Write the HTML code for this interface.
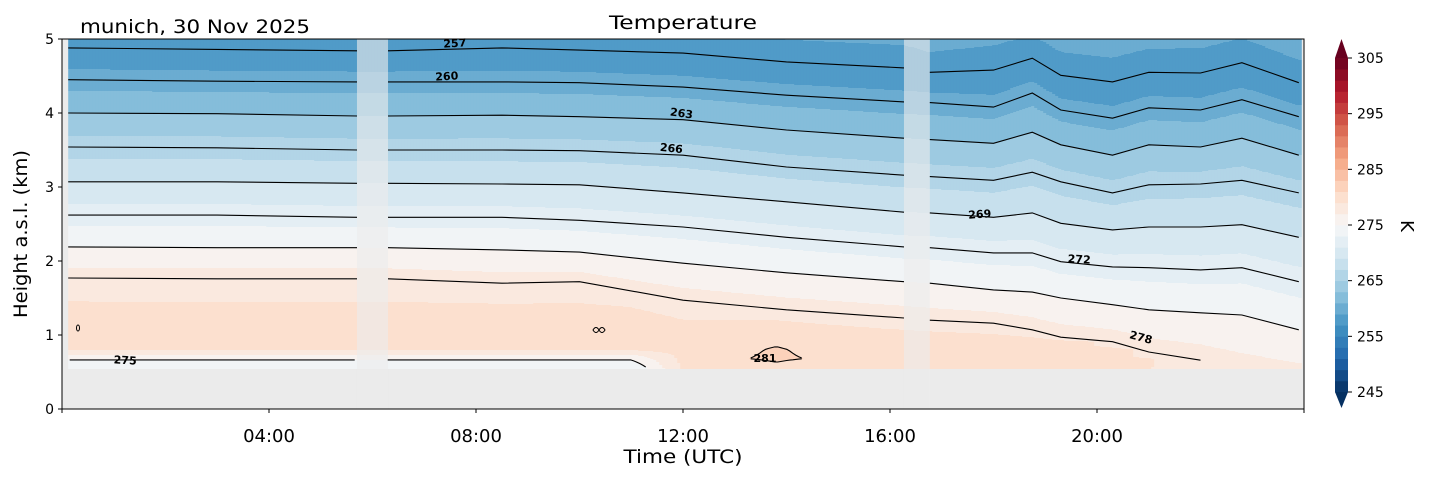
<!DOCTYPE html>
<html><head><meta charset="utf-8">
<style>
html,body{margin:0;padding:0;background:#fff;}
svg{display:block;font-family:"DejaVu Sans","Liberation Sans",sans-serif;}
</style></head>
<body>
<svg id="chart" width="1429" height="478" viewBox="0 0 1429 478" xmlns="http://www.w3.org/2000/svg">
  <rect x="62" y="39" width="1242" height="370" fill="#ebebeb"/>
  <g id="fills"></g>
  <g id="gaps"></g>
  <g id="lines"></g>
  <g id="clabels" font-size="11" font-weight="bold" fill="#000">
    <text x="455" y="47" text-anchor="middle" transform="rotate(-3 455 47)">257</text>
    <text x="447" y="80" text-anchor="middle" transform="rotate(-3 447 80)">260</text>
    <text x="681" y="117" text-anchor="middle" transform="rotate(8 681 117)">263</text>
    <text x="671" y="152" text-anchor="middle" transform="rotate(6 671 152)">266</text>
    <text x="980" y="218" text-anchor="middle" transform="rotate(-4 980 218)">269</text>
    <text x="1079" y="263" text-anchor="middle" transform="rotate(3 1079 263)">272</text>
    <text x="1140" y="341" text-anchor="middle" transform="rotate(15 1140 341)">278</text>
    <text x="125" y="364" text-anchor="middle" transform="rotate(3 125 364)">275</text>
    <text x="765" y="362" text-anchor="middle">281</text>
  </g>
  <ellipse cx="78" cy="328" rx="1.5" ry="3" fill="none" stroke="#000" stroke-width="1"/>
  <path d="M593,330 q3,-5 6,0 q3,5 6,0 q-3,-5 -6,0 q-3,5 -6,0 z" fill="none" stroke="#000" stroke-width="1"/>
  <rect x="62" y="39" width="1242" height="370" fill="none" stroke="#000" stroke-width="1"/>
  <g id="yaxis" font-size="14" fill="#000"></g>
  <g id="xaxis" font-size="18" fill="#000"></g>
  <text x="683" y="29" text-anchor="middle" font-size="19" textLength="148" lengthAdjust="spacingAndGlyphs">Temperature</text>
  <text x="80" y="33" font-size="19" textLength="230" lengthAdjust="spacingAndGlyphs">munich, 30 Nov 2025</text>
  <text x="683" y="463" text-anchor="middle" font-size="19" textLength="119" lengthAdjust="spacingAndGlyphs">Time (UTC)</text>
  <text x="27" y="234" text-anchor="middle" font-size="19" textLength="168" lengthAdjust="spacingAndGlyphs" transform="rotate(-90 27 234)">Height a.s.l. (km)</text>
  <g id="cbar"></g>
  <text x="1401" y="226" text-anchor="middle" font-size="18" transform="rotate(90 1401 226)">K</text>
</svg>
<script>
// ---- data ----
const times = [0.12,3,5.7,6.3,8.5,10,12,14,16.27,16.77,18,18.75,19.3,20.3,21,22,22.8,23.9];
const levels = [257,260,263,266,269,272,275,278];
const h257 = [4.88,4.86,4.84,4.84,4.88,4.85,4.81,4.69,4.61,4.55,4.58,4.74,4.51,4.42,4.55,4.54,4.68,4.41];
const h260 = [4.45,4.43,4.42,4.42,4.42,4.41,4.35,4.24,4.15,4.14,4.08,4.27,4.04,3.93,4.07,4.04,4.18,3.95];
const h263 = [4.00,3.99,3.96,3.96,3.97,3.95,3.91,3.77,3.66,3.64,3.59,3.74,3.57,3.43,3.57,3.54,3.66,3.43];
const h266 = [3.54,3.53,3.50,3.50,3.50,3.49,3.43,3.27,3.16,3.14,3.09,3.20,3.07,2.92,3.03,3.04,3.09,2.92];
const h269 = [3.07,3.07,3.05,3.05,3.04,3.03,2.92,2.80,2.66,2.65,2.59,2.65,2.51,2.42,2.46,2.46,2.49,2.32];
const h272 = [2.62,2.62,2.59,2.59,2.59,2.55,2.46,2.32,2.19,2.18,2.11,2.11,1.99,1.92,1.91,1.88,1.91,1.72];
const h275 = [2.19,2.18,2.18,2.18,2.15,2.12,1.97,1.84,1.72,1.70,1.61,1.58,1.50,1.41,1.34,1.30,1.27,1.07];
const h278 = [1.77,1.76,1.76,1.76,1.70,1.72,1.47,1.34,1.23,1.20,1.16,1.07,0.97,0.91,0.77,0.66,0.50,0.39];
const lowTimes = [0.12,11,12,13.1,13.8,14.5,16,20,21.5,22.5,23.9];
const t055 = [273,273,279.3,279.5,280.5,279.6,279.6,279.5,278.8,277.8,277.5];
const t068 = [275.3,275.3,279.5,280.9,281.3,280.9,279.8,279.6,278.8,277.8,277.5];
const t080 = [279.2,279.2,279.7,280.6,281.2,280.6,279.8,279.6,278.6,277.7,277.4];
const peakH = [1.2,1.2,1.0,1.0,1.0,1.0,0.95,0.9,0.85,0.8,0.8];
const peakT = [279.8,279.8,279.8,280,280.3,280,279.8,279.4,278.4,277.6,277.3];
const gapStart = [5.7,16.27];
const gapEnd = [6.3,16.77];
const cbTicks = [245,255,265,275,285,295,305];
const xTicks = [4,8,12,16,20];
const xTickLabels = ["04:00","08:00","12:00","16:00","20:00"];
const yTicks = [0,1,2,3,4,5];
const isoH = [h257,h260,h263,h266,h269,h272,h275,h278];

// ---- scales ----
const X0=62, X1=1304, Y0=409, Y1=39;
const xs = t => X0 + (t/24)*(X1-X0);
const ys = h => Y0 - (h/5)*(Y0-Y1);
const hy = y => (Y0-y)/(Y0-Y1)*5;
const NS='http://www.w3.org/2000/svg';
function el(tag, attrs, parent){const e=document.createElementNS(NS,tag);for(const k in attrs)e.setAttribute(k,attrs[k]);parent.appendChild(e);return e;}
function interp(tArr, vArr, t){
  if(t<=tArr[0])return vArr[0];
  for(let i=1;i<tArr.length;i++){ if(t<=tArr[i]){const f=(t-tArr[i-1])/(tArr[i]-tArr[i-1]);return vArr[i-1]+f*(vArr[i]-vArr[i-1]);} }
  return vArr[vArr.length-1];
}
const stops=[[5,48,97],[33,102,172],[67,147,195],[146,197,222],[209,229,240],[247,247,247],[253,219,199],[244,165,130],[214,96,77],[178,24,43],[103,0,31]];
function cmap(v){v=Math.max(0,Math.min(1,v));const p=v*10;const i=Math.min(9,Math.floor(p));const f=p-i;const a=stops[i],b=stops[i+1];return 'rgb('+a.map((c,k)=>Math.round(c+f*(b[k]-c))).join(',')+')';}
function bandColor(i){return cmap((2*i+1)/60);}
function bandOf(T){return Math.max(0,Math.min(29,Math.floor((T-245)/2)));}

function profile(t){
  const up = levels.map((L,k)=>[interp(times,isoH[k],t),L]);
  const h278v = up[7][0];
  const lows = [[0.55,interp(lowTimes,t055,t)],[0.68,interp(lowTimes,t068,t)],[0.8,interp(lowTimes,t080,t)],[interp(lowTimes,peakH,t),interp(lowTimes,peakT,t)]];
  let pts = lows.filter(p=>p[0]<h278v-0.03).concat(up);
  const a=up[0], b=up[1];
  pts.push([6, a[1] - (6-a[0])*(b[1]-a[1])/(b[0]-a[0])]);
  pts.sort((p,q)=>p[0]-q[0]);
  return pts;
}
function Tat(pts,h){
  if(h<=pts[0][0])return pts[0][1];
  for(let i=1;i<pts.length;i++){ if(h<=pts[i][0]){const f=(h-pts[i-1][0])/(pts[i][0]-pts[i-1][0]);return pts[i-1][1]+f*(pts[i][1]-pts[i-1][1]);} }
  return pts[pts.length-1][1];
}

// ---- fills ----
const fills=document.getElementById('fills');
const xStart=xs(times[0]), xEnd=xs(times[times.length-1]);
const yBottom=Math.round(ys(0.54));
const colW=3;
const lowCross=[];
for(let x=xStart;x<xEnd;x+=colW){
  const t=(x+colW/2-X0)/(X1-X0)*24;
  const pts=profile(t);
  let runStart=Y1, runBand=bandOf(Tat(pts,hy(Y1+0.5)));
  for(let y=Y1+1;y<=yBottom;y++){
    const b = y<yBottom ? bandOf(Tat(pts,hy(y+0.5))) : -1;
    if(b!==runBand){
      const r=el('rect',{x:x.toFixed(1),y:runStart,width:colW+0.6,height:y-runStart,fill:bandColor(runBand)},fills);
      
      
      runStart=y; runBand=b;
    }
  }
  const rec={x:x+colW/2};
  [275,281].forEach(L=>{
    const cs=[];
    for(let i=1;i<pts.length;i++){
      const [h0,v0]=pts[i-1],[h1,v1]=pts[i];
      if(h1>1.6)break;
      if((v0-L)*(v1-L)<0){const f=(L-v0)/(v1-v0);const h=h0+f*(h1-h0);if(h>=0.54)cs.push(h);}
    }
    rec[L]=cs;
  });
  lowCross.push(rec);
}

// ---- gaps ----
const gapsG=document.getElementById('gaps');
gapStart.forEach((g,i)=>{
  const r=el('rect',{x:xs(g),y:Y1,width:xs(gapEnd[i])-xs(g),height:Y0-Y1,fill:'rgba(236,236,236,0.62)'},gapsG);
  
  
});

// ---- contour lines ----
const linesG=document.getElementById('lines');
function inGap(t){return gapStart.some((g,i)=>t>g+0.01&&t<gapEnd[i]-0.01);}
levels.forEach((L,k)=>{
  let segs=[[]];
  times.forEach((t,i)=>{
    const h=isoH[k][i];
    if(h<0.54){ if(segs[segs.length-1].length)segs.push([]); return; }
    segs[segs.length-1].push([xs(t),ys(h)]);
    if(gapStart.includes(t)) segs.push([]);
  });
  segs.forEach(s=>{
    if(s.length<2)return;
    const p=el('polyline',{points:s.map(q=>q[0].toFixed(1)+','+q[1].toFixed(1)).join(' '),fill:'none',stroke:'#000','stroke-width':1.1},linesG);
    
    
  });
});
[[275,0],[281,0],[281,1]].forEach(([L,idx])=>{
  let seg=[];
  const flush=()=>{ if(seg.length>1){const p=el('polyline',{points:seg.join(' '),fill:'none',stroke:'#000','stroke-width':1.1},linesG);
    
    } seg=[]; };
  lowCross.forEach(r=>{
    const t=(r.x-X0)/(X1-X0)*24;
    const cs=r[L];
    if(cs.length>idx && !inGap(t)){ seg.push(r.x.toFixed(1)+','+ys(cs[idx]).toFixed(1)); }
    else flush();
  });
  flush();
});

// ---- axes ----
const ya=document.getElementById('yaxis');
yTicks.forEach(v=>{
  const y=ys(v);
  const l=el('line',{x1:X0-4,x2:X0,y1:y,y2:y,stroke:'#000'},ya);
  
  
  const tx=el('text',{x:X0-8,y:y+5,'text-anchor':'end'},ya); tx.textContent=v;
  
  
});
const xa=document.getElementById('xaxis');
[0,24].forEach(v=>{const l=el('line',{x1:xs(v),x2:xs(v),y1:Y0,y2:Y0+4,stroke:'#000'},xa);
  
  });
xTicks.forEach((v,i)=>{
  const x=xs(v);
  const l=el('line',{x1:x,x2:x,y1:Y0,y2:Y0+4,stroke:'#000'},xa);
  
  
  const tx=el('text',{x:x,y:Y0+33,'text-anchor':'middle'},xa); tx.textContent=xTickLabels[i];
  
  
});

// ---- colorbar ----
const cb=document.getElementById('cbar');
const CBX=1335, CBW=13, CB_TOP=58, CB_BOT=392;
const cy = v => CB_BOT - (v-245)/60*(CB_BOT-CB_TOP);
for(let i=0;i<30;i++){
  const r=el('rect',{x:CBX,y:cy(247+2*i),width:CBW,height:cy(245+2*i)-cy(247+2*i)+0.4,fill:bandColor(i)},cb);
  
  
}
const tri1=el('polygon',{points:`${CBX},${CB_TOP} ${CBX+CBW},${CB_TOP} ${CBX+CBW/2},39`,fill:'rgb(103,0,31)'},cb);


const tri2=el('polygon',{points:`${CBX},${CB_BOT} ${CBX+CBW},${CB_BOT} ${CBX+CBW/2},408`,fill:'rgb(5,48,97)'},cb);


cbTicks.forEach(v=>{
  const y=cy(v);
  const l=el('line',{x1:CBX+CBW,x2:CBX+CBW+4,y1:y,y2:y,stroke:'#000'},cb);
  
  
  const tx=el('text',{x:CBX+CBW+9,y:y+5,'font-size':14},cb); tx.textContent=v;
  
  
});
</script>
</body></html>
